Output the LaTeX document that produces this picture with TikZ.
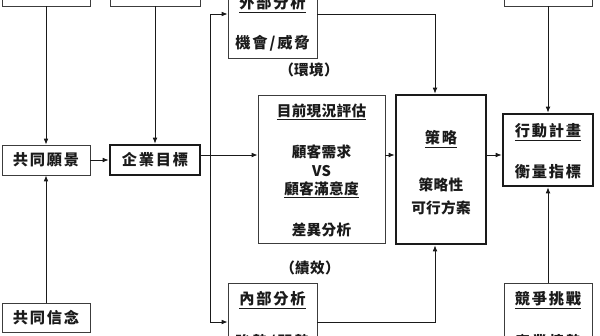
\documentclass[tikz,border=0pt]{standalone}
\usepackage{fontspec}
\usepackage{tikz}
\usetikzlibrary{positioning,arrows.meta,calc}
\newfontfamily\cjkw[LetterSpace=12]{Noto Sans CJK TC}
\newfontfamily\cjkn[LetterSpace=2]{Noto Sans CJK TC}
\definecolor{ink}{HTML}{1A1A1A}
\definecolor{edge}{HTML}{3C3C3C}
\tikzset{
  flow/.style={-{Latex[length=5pt,width=4pt]}, line width=0.7pt, color=ink},
  panel/.style={draw=edge, line width=0.8pt, fill=white, inner sep=0pt},
  hub/.style={draw=ink, line width=2.4pt, fill=white, inner sep=0pt},
  txt/.style={font=\cjkw\bfseries\fontsize{13}{15}\selectfont, text=ink, inner sep=0pt},
  txtn/.style={font=\cjkn\bfseries\fontsize{12.5}{15}\selectfont, text=ink, inner sep=0pt},
}

\begin{document}
\begin{tikzpicture}[x=0.3mm,y=-0.3mm]
  \clip (0,0) rectangle (600,335);
  % boxes cut by the top edge
  \node[panel, minimum width=26.4mm, minimum height=15.6mm] (topA) at (46,-20) {};
  \node[panel, minimum width=27mm, minimum height=15.6mm] (topB) at (155,-20) {};
  \node[panel, minimum width=26.4mm, minimum height=15.6mm] (topC) at (548,-20) {};
  % left column
  \node[panel, minimum width=26.4mm, minimum height=9mm, txt] (vision) at (46,160) {共同願景};
  \node[panel, minimum width=26.4mm, minimum height=8.7mm, txt] (belief) at (46,318) {共同信念};
  \node[hub, minimum width=27mm, minimum height=9mm, txt] (goal) at (155,160) {企業目標};
  % analysis
  \node[panel, minimum width=26.7mm, minimum height=26.4mm] (external) at (272.5,14) {};
  \node[txt] (extT) at (272.5,4) {\underline{外部分析}};
  \node[txt] (extS) at (272.5,43) {機會/威脅};
  \node[txtn] (env) at (309,70) {（環境）};
  \node[panel, minimum width=38.1mm, minimum height=44.4mm] (current) at (321.5,169) {};
  \node[txtn] (curT) at (321.5,112) {\underline{目前現況評估}};
  \node[txtn] (curA) at (321.5,152) {顧客需求};
  \node[txtn] (curV) at (321.5,171) {VS};
  \node[txtn] (curB) at (321.5,190) {\underline{顧客滿意度}};
  \node[txtn] (curG) at (321.5,230) {差異分析};
  \node[txtn] (perf) at (310,268) {（績效）};
  \node[panel, minimum width=26.7mm, minimum height=23.4mm] (internal) at (272.5,322) {};
  \node[txt] (intT) at (272.5,300) {\underline{內部分析}};
  \node[txt] (intS) at (272.5,342) {強勢/弱勢};
  % strategy and plan
  \node[hub, minimum width=27mm, minimum height=44.7mm] (strategy) at (441,169.5) {};
  \node[txt] (strT) at (441,139) {\underline{策略}};
  \node[txtn] (strA) at (441,185) {策略性};
  \node[txtn] (strB) at (441,208) {可行方案};
  \node[hub, minimum width=27mm, minimum height=21.6mm] (plan) at (548,150) {};
  \node[txt] (plnT) at (548,132) {\underline{行動計畫}};
  \node[txt] (plnS) at (548,172) {衡量指標};
  \node[panel, minimum width=26.4mm, minimum height=23.4mm] (challenge) at (548,322) {};
  \node[txt] (chaT) at (548,300) {\underline{競爭挑戰}};
  \node[txt] (chaS) at (548,342) {產業情勢};
  % connectors
  \coordinate (axis) at (0,155);
  \coordinate (split) at (210,155);
  \draw[flow] (topA) -- (vision);
  \draw[flow] (belief) -- (vision);
  \draw[flow] (topB) -- (goal);
  \draw[flow] (vision) -- (goal);
  \draw[line width=0.7pt, ink] (goal.east |- axis) -- (split);
  \draw[flow] (split) -- (current.west |- axis);
  \draw[flow] (split) |- (external.west);
  \draw[flow] (split) |- (internal.west);
  \draw[flow] (external.east) -| ([xshift=-1.8mm]strategy.north);
  \draw[flow] (internal.east) -| ([xshift=-1.8mm]strategy.south);
  \draw[flow] (current.east |- axis) -- (strategy.west |- axis);
  \draw[flow] (strategy.east |- axis) -- (plan.west |- axis);
  \draw[flow] (topC) -- (plan);
  \draw[flow] (challenge) -- (plan);
\end{tikzpicture}
\end{document}
